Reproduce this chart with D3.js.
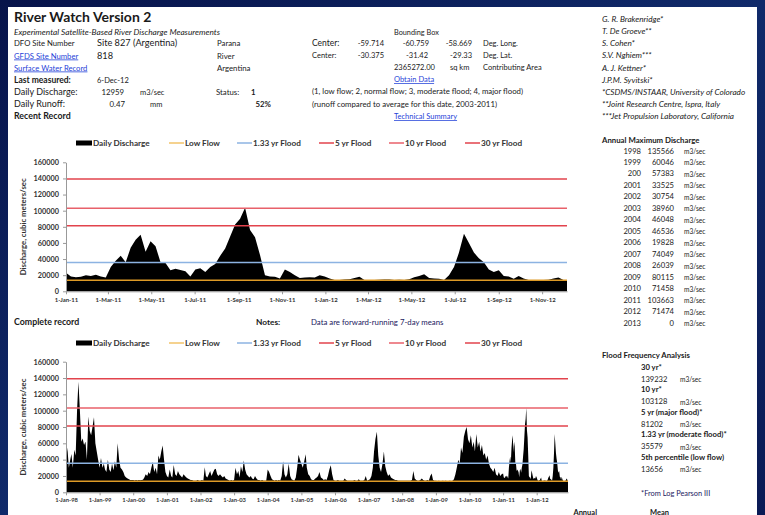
<!DOCTYPE html>
<html><head><meta charset="utf-8">
<script src="https://cdn.jsdelivr.net/npm/d3@7"></script>
<style>body{margin:0;background:#0b1a4f;overflow:hidden} svg{display:block}</style>
</head><body><svg id="c" width="765" height="515"></svg>
<script>
// ---------------- DATA ----------------
const thresholdNames  = ["Low Flow", "1.33 yr Flood", "5 yr Flood", "10 yr Flood", "30 yr Flood"];
const thresholdValues = [13656, 35579, 81202, 103128, 139232];
const yTickValues = [0, 20000, 40000, 60000, 80000, 100000, 120000, 140000, 160000];

const recentStart = "2011-01-01";
const lastMeasured = "2012-12-06";
const lastDischarge = 12959;
// weekly 7-day mean discharge from 1-Jan-11
const recentDischarge = [
 23000,18500,17500,18000,20000,19000,20500,18500,17000,30000,
 38000,44000,36000,54000,64000,70000,49000,62000,56000,36000,
 35000,26000,28000,26500,25000,18500,27000,28500,24000,30000,
 34000,44000,53000,68000,83000,90000,103663,76000,67000,45000,
 20000,18500,18000,16000,27000,24000,20000,16500,17000,17500,
 17000,20000,18500,16000,14000,14000,14500,15000,16500,18000,
 14000,13800,14000,14200,14500,14500,14000,14300,13900,15000,
 17500,19000,21000,16500,16000,15500,14000,20000,30000,48000,
 71474,60000,48000,41000,36000,27000,24000,26000,19000,18500,
 15500,19000,16000,14000,13800,13700,13900,14200,16000,17000,
 14000];

const historyStart = "1998-01-01";
// semi-monthly (1st and 16th) discharge 1998-2010
const historyDischarge = [
 /*1998*/ 35000,55000,30000,40000,47000,30000,52000,45000,100000,135566,100000,62000,66000,58000,62000,40000,93000,75000,70000,80000,92000,60000,50000,40000,
 /*1999*/ 30000,42000,30000,35000,28000,25000,40000,28000,25000,35000,27000,38000,30000,60046,40000,30000,28000,25000,20000,18000,17000,16000,15000,15000,
 /*2000*/ 15000,14500,15000,14500,15000,14800,15000,15500,18000,22000,20000,25000,22000,30000,37000,25000,30000,22000,45000,40000,50000,57383,40000,25000,
 /*2001*/ 20000,18000,28000,20000,18000,33525,22000,20000,26000,22000,20000,18000,22000,20000,18000,17000,16000,15000,15000,14000,14000,14000,15000,14000,
 /*2002*/ 14000,15000,14000,30754,20000,18000,22000,26000,20000,24000,28000,29000,22000,20000,22000,20000,18000,20000,17000,16000,15000,14000,15000,14000,
 /*2003*/ 15000,30000,22000,26000,18000,32000,25000,38960,28000,22000,20000,18000,20000,17000,16000,20000,17000,15000,15000,14000,15000,14000,14000,14000,
 /*2004*/ 28000,25000,20000,16000,15000,14000,15000,14000,15000,14000,20000,38000,22000,18000,22000,35000,20000,16000,15000,14000,18000,30000,46048,40000,
 /*2005*/ 35000,30000,38000,46536,30000,22000,20000,16000,15000,15000,17000,18000,20000,25000,18000,17000,15000,16000,15000,20000,28000,33000,22000,15000,
 /*2006*/ 14000,14000,15000,14000,14000,14000,14000,17000,15000,14000,14000,14000,14000,14000,15000,14000,14000,16000,14000,14000,14000,15000,19828,14000,
 /*2007*/ 15000,16000,20000,30000,50000,65000,74049,45000,30000,25000,35000,50000,32000,25000,20000,22000,18000,17000,16000,15000,15000,14000,14000,14000,
 /*2008*/ 14000,14000,14000,14000,14000,14000,14000,15000,26039,17000,15000,14000,14000,15000,17000,15000,14000,14000,15000,14000,20000,23000,15000,14000,
 /*2009*/ 14000,13800,14000,13700,13900,14000,13800,14000,13900,13700,14000,13800,14000,16000,22000,30000,40000,35000,55000,48000,68000,75000,80115,65000,
 /*2010*/ 60000,70000,55000,62000,50000,71458,55000,62000,50000,58000,45000,48000,40000,45000,35000,30000,28000,25000,30000,22000,20000,25000,20000,22000
];

const recentTickLabels = ["1-Jan-11","1-Mar-11","1-May-11","1-Jul-11","1-Sep-11","1-Nov-11","1-Jan-12","1-Mar-12","1-May-12","1-Jul-12","1-Sep-12","1-Nov-12"];
const completeTickLabels = ["1-Jan-98","1-Jan-99","1-Jan-00","1-Jan-01","1-Jan-02","1-Jan-03","1-Jan-04","1-Jan-05","1-Jan-06","1-Jan-07","1-Jan-08","1-Jan-09","1-Jan-10","1-Jan-11","1-Jan-12"];

const annualYears = ["1998","1999","200","2001","2002","2003","2004","2005","2006","2007","2008","2009","2010","2011","2012","2013"];
const annualMax   = [135566,60046,57383,33525,30754,38960,46048,46536,19828,74049,26039,80115,71458,103663,71474,0];

const floodLabels = ["30 yr*","10 yr*","5 yr (major flood)*","1.33 yr (moderate flood)*","5th percentile (low flow)"];
const floodValues = [139232,103128,81202,35579,13656];

// ---------------- BUILD ----------------
const FONT = "Lato, 'Open Sans', sans-serif";
const svg = d3.select("#c");
const W = 765, H = 515;
const defs = svg.append("defs");
const gr = defs.append("linearGradient").attr("id","bg").attr("x1",0).attr("y1",0).attr("x2",1).attr("y2",1);
gr.append("stop").attr("offset","0%").attr("stop-color","#07134a");
gr.append("stop").attr("offset","50%").attr("stop-color","#102a6a");
gr.append("stop").attr("offset","100%").attr("stop-color","#0a1a55");
svg.append("rect").attr("width",W).attr("height",H).attr("fill","url(#bg)");
svg.append("rect").attr("x",8).attr("y",7).attr("width",749).attr("height",H-7).attr("fill","#fff");

function txt(x,y,s,o={}){
  const t = svg.append("text").attr("x",x).attr("y",y).text(s)
    .attr("font-family",FONT).attr("font-size",o.size||7.5).attr("fill",o.fill||"#1a1a1a");
  if(o.bold) t.attr("font-weight","bold");
  if(o.italic) t.attr("font-style","italic");
  if(o.anchor) t.attr("text-anchor",o.anchor);
  if(o.len) t.attr("textLength",o.len).attr("lengthAdjust","spacingAndGlyphs");
  if(o.link) t.attr("fill","#1f3fd8").attr("text-decoration","underline");
  return t;
}

// header left
txt(14,22,"River Watch Version 2",{size:14,bold:true});
txt(14,34.5,"Experimental Satellite-Based River Discharge Measurements",{size:7.9,italic:true,len:206});
txt(14,46,"DFO Site Number",{size:7.7});
txt(97,46,"Site 827 (Argentina)",{size:9.2});
txt(217,46,"Parana",{size:7.8});
txt(14,58.5,"GFDS Site Number",{size:7.7,link:true});
txt(97,58.5,"818",{size:9.2});
txt(217,58.5,"River",{size:7.8});
txt(14,70.5,"Surface Water Record",{size:7.7,link:true});
txt(217,70.5,"Argentina",{size:7.8});
txt(14,82.5,"Last measured:",{size:8.5,bold:true});
txt(97,82.5,"6-Dec-12",{size:7.5});
txt(14,94.5,"Daily Discharge:",{size:9});
txt(124,94.5,d3.format("d")(lastDischarge),{size:7.8,anchor:"end"});
txt(140,94.5,"m3/sec",{size:7.5});
txt(216,94.5,"Status:",{size:7.8});
txt(251,94.5,"1",{size:7.8,bold:true});
txt(14,106.5,"Daily Runoff:",{size:9});
txt(125,106.5,"0.47",{size:7.8,anchor:"end"});
txt(150,106.5,"mm",{size:7.5});
txt(271,106.5,"52%",{size:7.8,bold:true,anchor:"end"});
txt(14,119,"Recent Record",{size:8.8,bold:true});

// header middle
txt(394,35,"Bounding Box",{size:7.3});
txt(312,46,"Center:",{size:8.5});
txt(384,46,"-59.714",{size:7.5,anchor:"end"});
txt(429,46,"-60.759",{size:7.5,anchor:"end"});
txt(472,46,"-58.669",{size:7.5,anchor:"end"});
txt(483,46,"Deg. Long.",{size:7.5});
txt(312,58,"Center:",{size:7.5});
txt(384,58,"-30.375",{size:7.5,anchor:"end"});
txt(428,58,"-31.42",{size:7.5,anchor:"end"});
txt(472,58,"-29.33",{size:7.5,anchor:"end"});
txt(483,58,"Deg. Lat.",{size:7.5});
txt(394,70,"2365272.00",{size:7.5});
txt(450,70,"sq km",{size:7.5});
txt(483,70,"Contributing Area",{size:7.5});
txt(394,82,"Obtain Data",{size:7.5,link:true});
txt(312,94,"(1, low flow; 2, normal flow; 3, moderate flood; 4, major flood)",{size:7.8,len:211});
txt(312,106.5,"(runoff compared to average for this date, 2003-2011)",{size:7.8,len:185});
txt(394,119,"Technical Summary",{size:7.5,link:true});

// authors
["G. R. Brakenridge*","T. De Groeve**","S. Cohen*","S.V. Nghiem***","A. J. Kettner*","J.P.M. Syvitski*",
 "*CSDMS/INSTAAR, University of Colorado","**Joint Research Centre, Ispra, Italy","***Jet Propulsion Laboratory, California"]
 .forEach((s,i)=>txt(602,22+i*12.15,s,{size:8.2,italic:true}));

// ---------------- CHARTS ----------------
const parseISO = d3.timeParse("%Y-%m-%d");
const parseTick = d3.timeParse("%-d-%b-%y");
const fmtTick = d3.timeFormat("%-d-%b-%y");

const recentSeries = recentDischarge.map((v,i)=>({date:d3.timeDay.offset(parseISO(recentStart),7*i), v}));
recentSeries.push({date:parseISO(lastMeasured), v:lastDischarge});
const h0 = parseISO(historyStart);
const historySeries = historyDischarge.map((v,i)=>{
  const m = Math.floor(i/2);
  return {date:new Date(h0.getFullYear(), m, i%2 ? 16 : 1), v};
});
const completeSeries = historySeries.concat(recentSeries);

const threshColors = ["#dd9a26","#8cb3e2","#e2434d","#e8616a","#e2434d"];

function drawChart(cfg){
  const x = d3.scaleTime().domain(cfg.domain).range([cfg.x0,cfg.x1]);
  const y = d3.scaleLinear().domain([0,160000]).range([cfg.y0,cfg.y1]);
  const g = svg.append("g");
  const area = d3.area().x(d=>x(d.date)).y0(y(0)).y1(d=>y(d.v));
  g.append("path").datum(cfg.series).attr("d",area).attr("fill","#000");
  thresholdValues.forEach((t,i)=>{
    g.append("line").attr("x1",cfg.x0).attr("x2",cfg.x1).attr("y1",y(t)).attr("y2",y(t))
      .attr("stroke",threshColors[i]).attr("stroke-width",1.5);
  });
  const ya = g.append("g").attr("transform",`translate(${cfg.x0},0)`)
    .call(d3.axisLeft(y).tickValues(yTickValues).tickFormat(d3.format("d")).tickSize(3).tickSizeOuter(0).tickPadding(4));
  ya.selectAll("text").attr("font-family",FONT).attr("font-size",7.3).attr("font-weight","bold").attr("fill","#333");
  ya.selectAll("line,path").attr("stroke","#999");
  const xa = g.append("g").attr("transform",`translate(0,${cfg.y0})`)
    .call(d3.axisBottom(x).tickValues(cfg.ticks.map(parseTick)).tickFormat(fmtTick).tickSize(3).tickSizeOuter(0).tickPadding(3));
  xa.selectAll("text").attr("font-family",FONT).attr("font-size",cfg.tickFont).attr("font-weight","bold").attr("fill","#333");
  xa.selectAll("line,path").attr("stroke","#999");
  g.append("text").attr("transform",`translate(26,${(cfg.y0+cfg.y1)/2}) rotate(-90)`)
    .attr("text-anchor","middle").attr("font-family",FONT).attr("font-size",7.8).attr("font-weight","bold").attr("fill","#333")
    .text("Discharge, cubic meters/sec");
  const ly = cfg.legendY;
  const lx = [76,169,237,319,389,465];
  const leg = g.append("g").attr("font-family",FONT).attr("font-size",8.2).attr("font-weight","bold").attr("fill","#333");
  leg.append("rect").attr("x",lx[0]).attr("y",ly-2.5).attr("width",16).attr("height",5).attr("fill","#000");
  leg.append("text").attr("x",lx[0]+17).attr("y",ly+3).text("Daily Discharge");
  thresholdNames.forEach((n,i)=>{
    const sx = lx[i+1];
    leg.append("line").attr("x1",sx).attr("x2",sx+15).attr("y1",ly).attr("y2",ly)
      .attr("stroke",i===0?"#f2c36a":threshColors[i]).attr("stroke-width",1.5);
    leg.append("text").attr("x",sx+16).attr("y",ly+3).text(n);
  });
}

drawChart({series:recentSeries, domain:[parseISO(recentStart),parseISO(lastMeasured)],
  x0:66,x1:567,y0:291.3,y1:162.3,ticks:recentTickLabels,tickFont:6,legendY:143});
drawChart({series:completeSeries, domain:[parseISO(historyStart),parseISO(lastMeasured)],
  x0:66,x1:568,y0:492.3,y1:361.7,ticks:completeTickLabels,tickFont:5.8,legendY:343});

// between charts
txt(14,325,"Complete record",{size:8.8,bold:true});
txt(256,325,"Notes:",{size:8.3,bold:true});
txt(311,325,"Data are forward-running 7-day means",{size:7.8,fill:"#1c2060"});

// annual max table
txt(602,143,"Annual Maximum Discharge",{size:7.8,bold:true});
annualYears.forEach((yr,i)=>{
  const yy = 153.5 + i*11.47;
  txt(641,yy,yr,{size:7.6,anchor:"end"});
  txt(674,yy,d3.format("d")(annualMax[i]),{size:7.6,anchor:"end"});
  txt(684,yy+0.5,"m3/sec",{size:6.6});
});

// flood frequency
txt(602,357.5,"Flood Frequency Analysis",{size:7.8,bold:true});
floodLabels.forEach((l,i)=>{
  txt(641,369.5+i*22.6,l,{size:7.7,bold:true});
  txt(641,381.5+i*22.6,d3.format("d")(floodValues[i]),{size:7.6});
  txt(680,382+i*22.6,"m3/sec",{size:6.6});
});
txt(641,495.5,"*From Log Pearson III",{size:7.4,fill:"#1c2060"});
txt(597,514.5,"Annual",{size:7.5,bold:true,anchor:"end"});
txt(650,514.5,"Mean",{size:7.5,bold:true});
</script></body></html>
